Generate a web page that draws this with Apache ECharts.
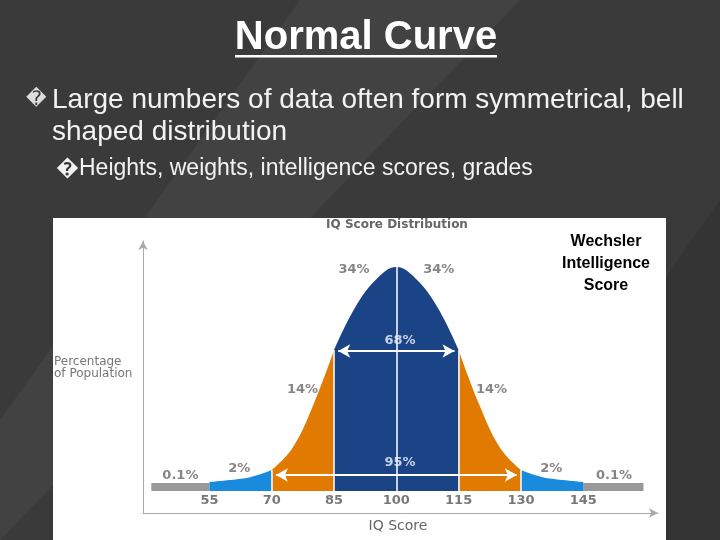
<!DOCTYPE html>
<html><head><meta charset="utf-8">
<script src="https://cdn.jsdelivr.net/npm/echarts@6/dist/echarts.min.js"></script>
<style>html,body{margin:0;padding:0;background:#3a3a3a}#c{width:720px;height:540px}</style>
</head><body><div id="c"></div>
<script>
const scores = [55,60,65,70,75,80,85,90,95,100,105,110,115,120,125,130,135,140,145];
const heights = [1,3,6,13,35,78,133,175,203,216,203,175,133,78,35,13,6,3,1];
const tickLabels = [55,70,85,100,115,130,145];
const pctLabels = [
  {t:'34%',x:89.8,y:213,c:'#666'},{t:'34%',x:110.2,y:213,c:'#666'},
  {t:'68%',x:100.9,y:142,c:'#eef2fa'},{t:'95%',x:100.9,y:20,c:'#eef2fa'},
  {t:'14%',x:77.4,y:93,c:'#666'},{t:'14%',x:122.9,y:93,c:'#666'},
  {t:'2%',x:62.2,y:14,c:'#666'},{t:'2%',x:137.3,y:14,c:'#666'},
  {t:'0.1%',x:48,y:7,c:'#666'},{t:'0.1%',x:152.4,y:7,c:'#666'}
];
function seg(a,b){const o=[];scores.forEach((s,i)=>{if(s>=a&&s<=b)o.push([s,heights[i]]);});return o;}
function area(a,b,color){return {type:'line',data:seg(a,b),smooth:0.4,symbol:'none',lineStyle:{width:0},
  areaStyle:{color:color,opacity:1,origin:-8},z:2,silent:true};}
const series=[
  {type:'line',data:[[41,-4],[55,-4]],symbol:'none',lineStyle:{color:'#999',width:8},z:1},
  {type:'line',data:[[145,-4],[159.5,-4]],symbol:'none',lineStyle:{color:'#999',width:8},z:1},
  area(55,70,'#1a8bdc'),area(70,85,'#e07a00'),area(85,115,'#1b4487'),area(115,130,'#e07a00'),area(130,145,'#1a8bdc'),
  {type:'line',data:[],symbol:'none',z:5,
   markLine:{silent:true,symbol:'none',label:{show:false},lineStyle:{color:'#fff',width:1.5,type:'solid'},
    data:[[{coord:[100,-8]},{coord:[100,216]}],[{coord:[70,-8]},{coord:[70,13]}],[{coord:[85,-8]},{coord:[85,133]}],
          [{coord:[115,-8]},{coord:[115,133]}],[{coord:[130,-8]},{coord:[130,13]}]]}},
  {type:'line',data:[],symbol:'none',z:6,
   markLine:{silent:true,symbol:['arrow','arrow'],symbolSize:[10,12],label:{show:false},lineStyle:{color:'#fff',width:2,type:'solid'},
    data:[[{coord:[86,132]},{coord:[114,132]}],[{coord:[71,8]},{coord:[129,8]}]]}},
  {type:'scatter',symbolSize:0,z:7,data:pctLabels.map(p=>({value:[p.x,p.y],label:{show:true,formatter:p.t,color:p.c,position:'inside',fontWeight:'bold',fontSize:13,fontFamily:'DejaVu Sans'}}))},
  {type:'scatter',symbolSize:0,z:7,data:tickLabels.map(v=>({value:[v,-18],label:{show:true,formatter:String(v),color:'#555',position:'inside',fontWeight:'bold',fontSize:13,fontFamily:'DejaVu Sans'}}))}
];
const chart=echarts.init(document.getElementById('c'));
chart.setOption({
  backgroundColor:'#3a3a3a',animation:false,
  grid:{left:143,right:62,top:241,bottom:27},
  xAxis:{type:'value',min:39,max:163,splitLine:{show:false},axisTick:{show:false},axisLabel:{show:false},
    axisLine:{onZero:false,lineStyle:{color:'#aaa'},symbol:['none','arrow'],symbolSize:[7,9]}},
  yAxis:{type:'value',min:-30,max:242,splitLine:{show:false},axisTick:{show:false},axisLabel:{show:false},
    axisLine:{show:true,onZero:false,lineStyle:{color:'#aaa'},symbol:['none','arrow'],symbolSize:[7,9]}},
  graphic:[
    {type:'polygon',z:-10,shape:{points:[[0,540],[0,420],[300,0],[520,0]]},style:{fill:'#424242'}},
    {type:'polygon',z:-10,shape:{points:[[480,540],[720,200],[720,540]]},style:{fill:'#343434'}},
    {type:'rect',z:-5,shape:{x:53,y:218,width:613,height:322},style:{fill:'#fff'}},
    {type:'text',x:366,y:38,style:{text:'Normal Curve',fill:'#fff',font:'bold 40px "Liberation Sans"',align:'center',verticalAlign:'middle'}},
    {type:'rect',shape:{x:235,y:55,width:262,height:2.5},style:{fill:'#fff'}},
    {type:'text',x:26,y:90,style:{text:'\uFFFD',fill:'#ddd',font:'20px "DejaVu Sans"'}},
    {type:'text',x:52,y:84,style:{text:'Large numbers of data often form symmetrical, bell\nshaped distribution',fill:'#f2f2f2',font:'28px "Liberation Sans"',lineHeight:32}},
    {type:'text',x:56,y:157,style:{text:'\uFFFDHeights, weights, intelligence scores, grades',fill:'#f2f2f2',font:'23px "Liberation Sans"'}},
    {type:'text',x:397,y:225,style:{text:'IQ Score Distribution',fill:'#666',font:'bold 12px "DejaVu Sans"',align:'center',verticalAlign:'middle'}},
    {type:'text',x:54,y:368,style:{text:'Percentage\nof Population',fill:'#777',font:'12px "DejaVu Sans"',lineHeight:12,verticalAlign:'middle'}},
    {type:'text',x:398,y:526,style:{text:'IQ Score',fill:'#666',font:'14px "DejaVu Sans"',align:'center',verticalAlign:'middle'}},
    {type:'text',x:606,y:264,style:{text:'Wechsler\nIntelligence\nScore',fill:'#000',font:'bold 16px "Liberation Sans"',align:'center',verticalAlign:'middle',lineHeight:22}}
  ],
  series:series
});
</script></body></html>
